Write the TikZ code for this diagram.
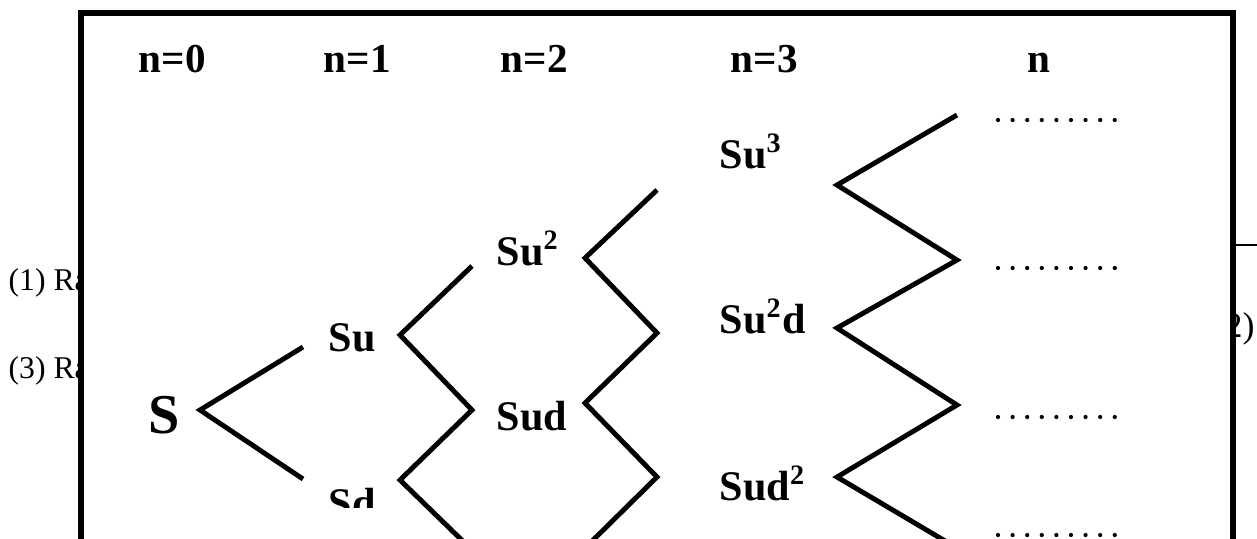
\documentclass[tikz,border=0pt]{standalone}
\usepackage{fontspec}
\setmainfont{Liberation Serif}

\tikzset{
  lbl/.style={font=\fontsize{12}{14}\selectfont\bfseries, inner sep=0pt, anchor=base west},
  head/.style={lbl, font=\fontsize{11.7}{14}\selectfont\bfseries},
  side/.style={font=\fontsize{9}{11}\selectfont, inner sep=0pt, anchor=base west},
  branch/.style={line width=1.4pt},
  dotrow/.style={line width=1.2pt, line cap=round, dash pattern=on 0pt off 4.15pt}
}

\begin{document}
\begin{tikzpicture}[x=0.01cm,y=-0.01cm]
  \clip (0,0) rectangle (1257,538);
  % text lying under the frame
  \node[side] (r1) at (8,290) {(1) Ra};
  \node[side] (r3) at (8,378) {(3) Ra};
  \node[side, font=\fontsize{10.2}{12}\selectfont] (r2) at (1212,337) {(2)};
  \coordinate (hl) at (1200,245);
  \coordinate (hr) at (1270,245);
  \draw[line width=0.6pt] (hl) -- (hr);
  % frame
  \draw[line width=1.7pt, fill=white] (81,12.5) rectangle (1233,620);

  % periods
  \node[head] (n0) at (138,72) {n=0};
  \node[head] (n1) at (323,72) {n=1};
  \node[head] (n2) at (500,72) {n=2};
  \node[head] (n3) at (730,72) {n=3};
  \node[head] (nn) at (1027,72) {n};

  % prices
  \node[lbl, font=\fontsize{16}{18}\selectfont\bfseries] (s0) at (148,433) {S};
  \node[lbl] (su) at (328,351) {Su};
  \begin{scope}
    \clip (0,0) rectangle (1257,507);
    \node[lbl] (sd) at (328,517) {Sd};
  \end{scope}
  \node[lbl] (suu) at (496,265) {Su\textsuperscript{2}};
  \node[lbl] (sud) at (496,430) {Sud};
  \node[lbl] (suuu) at (719,168) {Su\textsuperscript{3}};
  \node[lbl] (suud) at (719,333) {Su\textsuperscript{2}d};
  \node[lbl] (sudd) at (719,500) {Sud\textsuperscript{2}};

  % zigzag branches
  \foreach \nm/\x/\y in {a0/303/347, a1/200/410, a2/303/479,
      b0/472/266, b1/400/335, b2/472/410, b3/400/480, b4/472/550,
      c0/657/190, c1/585/258, c2/657/333, c3/585/403, c4/657/477, c5/585/548,
      d0/957/115, d1/837/185, d2/957/260, d3/837/328, d4/957/405, d5/837/477, d6/957/548}
    \coordinate (\nm) at (\x,\y);
  \draw[branch] (a0) -- (a1) -- (a2);
  \draw[branch] (b0) -- (b1) -- (b2) -- (b3) -- (b4);
  \draw[branch] (c0) -- (c1) -- (c2) -- (c3) -- (c4) -- (c5);
  \draw[branch] (d0) -- (d1) -- (d2) -- (d3) -- (d4) -- (d5) -- (d6);

  % dotted ends
  \foreach \y [count=\i] in {120,268,417,535} {
    \coordinate (e\i) at (998,\y);
    \coordinate (f\i) at (1117,\y);
    \draw[dotrow] (e\i) -- (f\i);
  }
\end{tikzpicture}
\end{document}
